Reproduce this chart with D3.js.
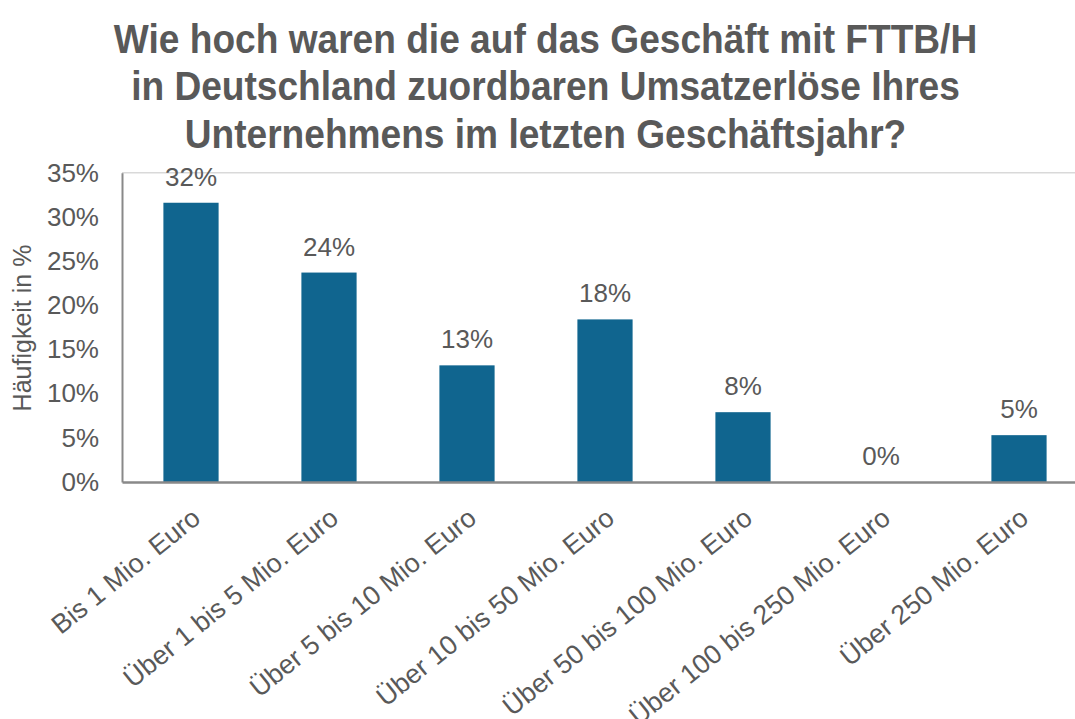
<!doctype html>
<html lang="de">
<head>
<meta charset="utf-8">
<script src="https://d3js.org/d3.v7.min.js"></script>
<style>
  body { margin: 0; background: #fff; }
  text { font-family: "Liberation Sans", Arial, sans-serif; fill: #595959; }
</style>
</head>
<body>
<svg id="chart" width="1075" height="719"></svg>
<script>
// chart data
var titleLines = [
  "Wie hoch waren die auf das Geschäft mit FTTB/H",
  "in Deutschland zuordbaren Umsatzerlöse Ihres",
  "Unternehmens im letzten Geschäftsjahr?"
];
var categories = [
  "Bis 1 Mio. Euro",
  "Über 1 bis 5 Mio. Euro",
  "Über 5 bis 10 Mio. Euro",
  "Über 10 bis 50 Mio. Euro",
  "Über 50 bis 100 Mio. Euro",
  "Über 100 bis 250 Mio. Euro",
  "Über 250 Mio. Euro"
];
var values = [31.6, 23.7, 13.2, 18.4, 7.9, 0, 5.3];
var yTicks = [0, 5, 10, 15, 20, 25, 30, 35];
var yTitle = "Häufigkeit in %";

var svg = d3.select("#chart");

var x = d3.scaleBand()
  .domain(categories)
  .range([122, 1088])
  .paddingInner(0.6)
  .paddingOuter(0.3);

var y = d3.scaleLinear()
  .domain([0, 35])
  .range([482, 172.7]);

// title
var title = svg.append("g")
  .attr("transform", "translate(545.5,0) scale(0.905,1)");
title.selectAll("text")
  .data(titleLines)
  .enter()
  .append("text")
  .attr("x", 0)
  .attr("y", function(d, i) { return 53 + i * 47.5; })
  .attr("text-anchor", "middle")
  .attr("font-size", 41)
  .attr("font-weight", "bold")
  .text(function(d) { return d; });

// top border line of the plot area
svg.append("line")
  .attr("x1", x.range()[0])
  .attr("x2", x.range()[1])
  .attr("y1", y(35))
  .attr("y2", y(35))
  .style("stroke", "#d9d9d9")
  .style("stroke-width", 1.5);

// bars
svg.selectAll("rect.bar")
  .data(values)
  .enter()
  .append("rect")
  .attr("class", "bar")
  .attr("x", function(d, i) { return x(categories[i]); })
  .attr("y", function(d) { return y(d); })
  .attr("width", x.bandwidth())
  .attr("height", function(d) { return y(0) - y(d); })
  .attr("fill", "#10658f");

// value labels
svg.selectAll("text.val")
  .data(values)
  .enter()
  .append("text")
  .attr("class", "val")
  .attr("x", function(d, i) { return x(categories[i]) + x.bandwidth() / 2; })
  .attr("y", function(d) { return y(d) - 17; })
  .attr("text-anchor", "middle")
  .attr("font-size", 26)
  .text(function(d) { return Math.round(d) + "%"; });

// y axis
var yAxis = svg.append("g")
  .attr("transform", "translate(122,0)")
  .call(d3.axisLeft(y).tickValues(yTicks).tickSize(0).tickPadding(23)
    .tickFormat(function(d) { return d + "%"; }));
yAxis.select(".domain").attr("stroke", "#898989").attr("stroke-width", 2);
yAxis.selectAll("text")
  .attr("font-size", 26)
  .attr("font-family", "Liberation Sans, Arial, sans-serif")
  .attr("fill", "#595959");

// x axis
var xAxis = svg.append("g")
  .attr("transform", "translate(0,482)")
  .call(d3.axisBottom(x).tickSize(0).tickFormat(""));
xAxis.select(".domain").attr("stroke", "#898989").attr("stroke-width", 2.5);

// category labels, rotated
svg.selectAll("text.cat")
  .data(categories)
  .enter()
  .append("text")
  .attr("class", "cat")
  .attr("transform", function(d) {
    return "translate(" + (x(d) + x.bandwidth() / 2 + 11) + ",521) rotate(-39)";
  })
  .attr("text-anchor", "end")
  .attr("font-size", 26.8)
  .text(function(d) { return d; });

// y axis title
svg.append("text")
  .attr("transform", "translate(31,328) rotate(-90)")
  .attr("text-anchor", "middle")
  .attr("font-size", 25)
  .text(yTitle);
</script>
</body>
</html>
